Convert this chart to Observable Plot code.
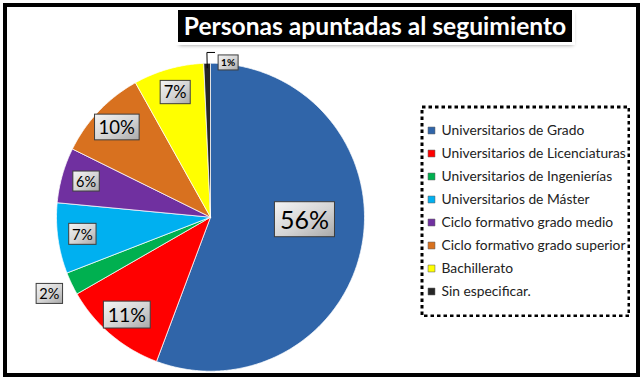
<!DOCTYPE html>
<html>
<head>
<meta charset="utf-8">
<script src="https://cdn.jsdelivr.net/npm/d3@7"></script>
<script src="https://cdn.jsdelivr.net/npm/@observablehq/plot@0.6"></script>
<style>
  html, body { margin: 0; padding: 0; background: #fff; }
  #wrap { position: relative; width: 640px; height: 381px; overflow: hidden; background: #fff; font-family: Lato, "Open Sans", sans-serif; }
  #pie { position: absolute; left: 0; top: 0; }
  #border { position: absolute; left: 3px; top: 3px; width: 637px; height: 374px; box-sizing: border-box; border: 4px solid #000; pointer-events: none; }
  #title { position: absolute; left: 178px; top: 10px; width: 394px; height: 32px; background: #000; color: #fff;
           font: bold 24.6px Lato, "Open Sans", sans-serif; text-align: center; line-height: 32px; white-space: nowrap;
           outline: 3px solid #fff; box-shadow: 1px 3px 4px rgba(0,0,0,0.45); }
  #legend { position: absolute; left: 420px; top: 105px; }
</style>
</head>
<body>
<div id="wrap">
  <div id="pie"></div>
  <div id="border"></div>
  <div id="title">Personas apuntadas al seguimiento</div>
  <div id="legend"></div>
</div>
<script>
// ---- data ----
const categories = [
  "Universitarios de Grado",
  "Universitarios de Licenciaturas",
  "Universitarios de Ingenierías",
  "Universitarios de Máster",
  "Ciclo formativo grado medio",
  "Ciclo formativo grado superior",
  "Bachillerato",
  "Sin especificar."
];
const values = [55.7, 11.0, 2.4, 7.4, 5.8, 9.6, 7.4, 0.7];
const labels = ["56%", "11%", "2%", "7%", "6%", "10%", "7%", "1%"];

// ---- styles ----
const colors = ["#3065A9", "#FF0000", "#00B050", "#00B0F0", "#7030A0", "#D8711F", "#FFFF00", "#262626"];
const labelFontSizes = [25, 19.5, 14.5, 15, 14.5, 18.5, 16.5, 10];

// ---- geometry from the data via d3.pie ----
const total = d3.sum(values);
const arcs = d3.pie().sort(null).value(d => d)(values);

const slicePts = [];
arcs.forEach((a, i) => {
  const cat = categories[i];
  const n = Math.max(2, Math.ceil((a.endAngle - a.startAngle) / (Math.PI / 360)));
  slicePts.push({cat, x: 0, y: 0});
  for (let k = 0; k <= n; k++) {
    const t = a.startAngle + (a.endAngle - a.startAngle) * k / n;
    slicePts.push({cat, x: Math.sin(t), y: Math.cos(t)});
  }
  slicePts.push({cat, x: 0, y: 0});
});

const labelData = arcs.map((a, i) => {
  const mid = (a.startAngle + a.endAngle) / 2;
  const pct = values[i] / total * 100;
  const kind = pct > 30 ? "big" : pct >= 3 ? "mid" : pct >= 1.5 ? "out" : "tiny";
  const r = kind === "big" ? 0.62 : kind === "mid" ? 0.84 : kind === "out" ? 1.16 : 1.0;
  return {x: r * Math.sin(mid), y: r * Math.cos(mid), label: labels[i], size: labelFontSizes[i], kind, mid};
});
const big = labelData.filter(d => d.kind === "big");
const inner = labelData.filter(d => d.kind === "mid" || d.kind === "out");
const tiny = labelData.filter(d => d.kind === "tiny");
const leader = [];
tiny.forEach((d, j) => {
  leader.push({id: j, x: 0.97 * Math.sin(d.mid), y: 0.97 * Math.cos(d.mid)});
  leader.push({id: j, x: 1.06 * Math.sin(d.mid), y: 1.07 * Math.cos(d.mid)});
  leader.push({id: j, x: 1.06 * Math.sin(d.mid) + 0.05, y: 1.07 * Math.cos(d.mid)});
});

const font = "Lato, 'Open Sans', sans-serif";
const pie = Plot.plot({
  width: 640,
  height: 381,
  marginLeft: 56,
  marginRight: 276,
  marginTop: 62.7,
  marginBottom: 10.3,
  x: {domain: [-1, 1], axis: null},
  y: {domain: [-1, 1], axis: null},
  color: {domain: categories, range: colors},
  style: {background: "transparent", overflow: "visible"},
  marks: [
    Plot.line(slicePts, {x: "x", y: "y", z: "cat", fill: "cat", stroke: "#ffffff", strokeWidth: 1, strokeOpacity: 0.75, curve: "linear"}),
    Plot.line(leader, {x: "x", y: "y", z: "id", stroke: "#000", strokeWidth: 1}),
    Plot.text(big, {x: "x", y: "y", text: "label", fontSize: "size", fill: "#000", dy: -13, fontFamily: font}),
    Plot.text(inner, {x: "x", y: "y", text: "label", fontSize: "size", fill: "#000", fontFamily: font}),
    Plot.text(tiny, {x: "x", y: "y", text: "label", fontSize: "size", fill: "#000", dx: 21, fontWeight: "bold", fontFamily: font})
  ]
});
document.getElementById("pie").appendChild(pie);

// gray gradient boxes behind the percentage labels
const ns = "http://www.w3.org/2000/svg";
const defs = document.createElementNS(ns, "defs");
defs.innerHTML = '<linearGradient id="lblg" x1="0" y1="0" x2="1" y2="1">' +
  '<stop offset="0" stop-color="#f4f4f4"/><stop offset="0.55" stop-color="#d4d4d4"/><stop offset="1" stop-color="#a9a9a9"/></linearGradient>';
pie.insertBefore(defs, pie.firstChild);
pie.querySelectorAll('g[aria-label="text"] text').forEach(t => {
  const fs = parseFloat(getComputedStyle(t).fontSize) || 12;
  const b = t.getBBox();
  const px = Math.max(3, fs * 0.22), py = Math.max(1.5, fs * 0.1);
  const r = document.createElementNS(ns, "rect");
  r.setAttribute("x", b.x - px);
  r.setAttribute("y", b.y - py);
  r.setAttribute("width", b.width + 2 * px);
  r.setAttribute("height", b.height + 2 * py);
  r.setAttribute("fill", "url(#lblg)");
  r.setAttribute("stroke", "#3d3d3d");
  r.setAttribute("stroke-width", "1");
  if (t.getAttribute("transform")) r.setAttribute("transform", t.getAttribute("transform"));
  t.parentNode.insertBefore(r, t);
});

// legend
const legend = Plot.plot({
  width: 210,
  height: 212,
  margin: 0,
  x: {domain: [0, 1], axis: null},
  y: {type: "point", domain: categories, range: [13.3, 198.7], axis: null},
  color: {domain: categories, range: colors},
  style: {background: "transparent"},
  marks: [
    Plot.frame({stroke: "#000", strokeWidth: 3, strokeDasharray: "3.5,3", inset: 1.5}),
    Plot.dot(categories, {y: d => d, fill: d => d, symbol: "square", r: 3.9, frameAnchor: "left", dx: 11, stroke: "#555", strokeWidth: 0.5}),
    Plot.text(categories, {y: d => d, text: d => d, frameAnchor: "left", dx: 21, textAnchor: "start", fontSize: 13.8, fill: "#222", fontFamily: font})
  ]
});
document.getElementById("legend").appendChild(legend);
</script>
</body>
</html>
